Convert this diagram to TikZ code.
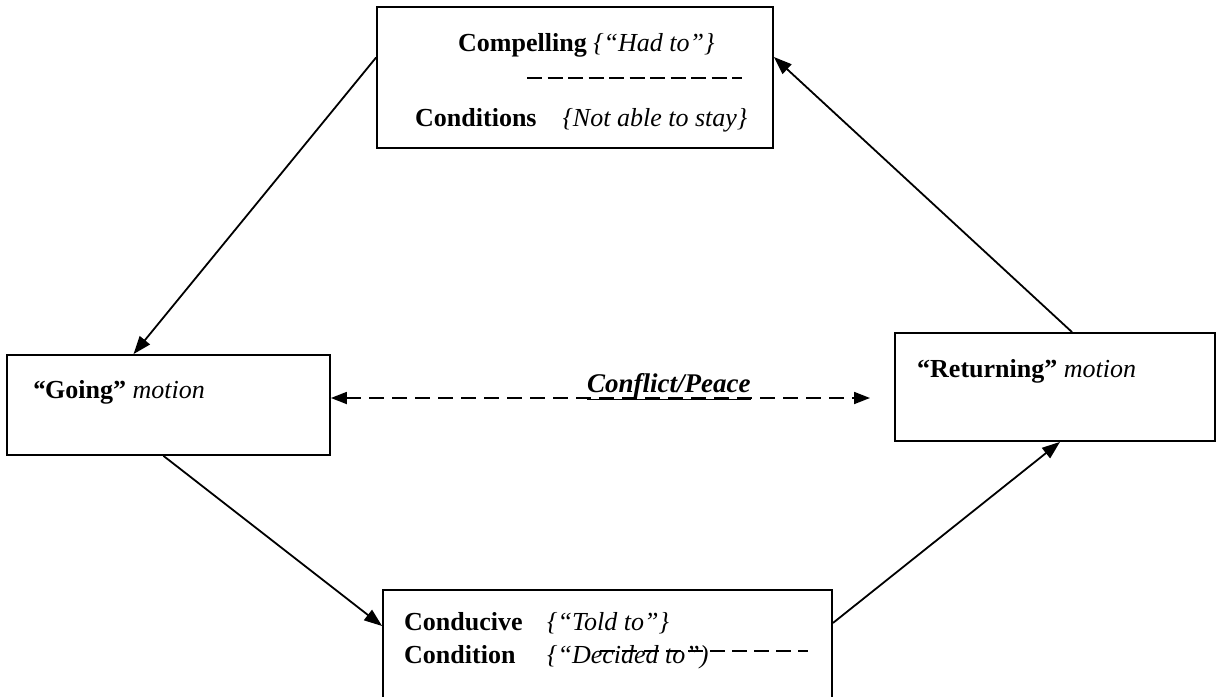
\documentclass[tikz,border=0pt]{standalone}
\usepackage{fontspec}
\setmainfont{Liberation Serif}
\usetikzlibrary{arrows.meta}
\begin{document}
\begin{tikzpicture}[x=1pt,y=-1pt,
  boxstyle/.style={draw,line width=1.8pt,inner sep=0pt,fill=none},
  txt/.style={anchor=base west,inner sep=0pt,font=\fontsize{26}{30}\selectfont},
  conn/.style={line width=1.8pt,-{Triangle[length=18pt,width=13pt]}},
  dashline/.style={line width=1.8pt,dash pattern=on 15pt off 5.5pt}
]
\useasboundingbox (0,0) rectangle (1222,696);
% boxes
\node[boxstyle,minimum width=396pt,minimum height=141pt] (top) at (575,77.5) {};
\node[boxstyle,minimum width=323pt,minimum height=100pt] (go) at (168.5,405) {};
\node[boxstyle,minimum width=320pt,minimum height=108pt] (ret) at (1055,387) {};
\node[boxstyle,minimum width=449pt,minimum height=112pt] (bot) at (607.5,646) {};
% texts
\node[txt] (t1) at (458,51) {\textbf{Compelling} \textit{\{“Had to”\}}};
\node[txt] (t2) at (415,126) {\textbf{Conditions}\quad\textit{\{Not able to stay\}}};
\coordinate (d1a) at (527,78);
\coordinate (d1b) at (742,78);
\draw[dashline] (d1a) -- (d1b);
\node[txt] (g1) at (32,398) {\textbf{\textit{“}Going”} \textit{motion}};
\node[txt] (r1) at (917,377) {\textbf{“Returning”} \textit{motion}};
\node[txt] (b1) at (404,630) {\textbf{Conducive}};
\node[txt] (b2) at (547,630) {\textit{\{“Told to”\}}};
\node[txt] (b3) at (404,663) {\textbf{Condition}};
\node[txt] (b4) at (547,663) {\textit{\{“Decided to”)}};
\coordinate (d2a) at (600,651);
\coordinate (d2b) at (808,651);
\draw[line width=1.5pt,dash pattern=on 15pt off 7pt] (d2a) -- (d2b);
% connectors
\draw[conn] ([yshift=20pt]top.west) -- ([xshift=-35pt]go.north);
\draw[conn] ([xshift=-5pt]go.south) -- ([yshift=20pt]bot.west);
\draw[conn] ([yshift=23pt]bot.east) -- ([xshift=5pt]ret.south);
\draw[conn] ([xshift=17pt]ret.north) -- ([yshift=20.5pt]top.east);
\coordinate (cpend) at (870,398);
\draw[line width=1.8pt,dash pattern=on 15pt off 8pt,{Triangle[length=16pt,width=12pt]}-{Triangle[length=16pt,width=12pt]}] ([yshift=7pt]go.east) -- (cpend);
\node[txt,font=\fontsize{27}{30}\selectfont\bfseries\itshape] (cp) at (587,392) {\underline{Conflict/Peace}};
\end{tikzpicture}
\end{document}
